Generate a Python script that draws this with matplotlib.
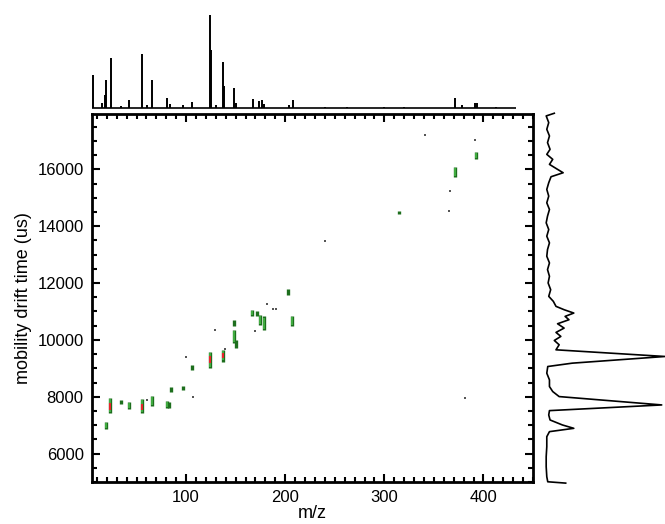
import matplotlib.pyplot as plt
from matplotlib.ticker import MultipleLocator

plt.rcParams['font.family'] = ['Liberation Sans', 'DejaVu Sans']

# top projection: m/z spectrum (peak position, relative height)
top_mz = [5.7, 15.4, 18, 19, 24, 34, 42, 55.6, 61, 66, 81, 84, 97, 106,
          124.5, 125.5, 130, 137, 138, 148, 150.7, 167, 174, 176.5, 178.5,
          204, 207.7, 240, 262, 300, 320, 371, 378.6, 391.4, 393, 412.5]
top_int = [33, 5, 13, 28, 50, 2, 8, 54, 3, 28, 10, 4, 3, 6,
           93, 58, 3, 46, 22, 20, 5, 9, 7, 8, 4,
           3.5, 8, 1.5, 1, 1, 1, 10, 3, 5, 5, 1.5]
top_range = [5, 433]

# right projection: drift time profile
drift_t = [17975, 17881, 17646, 17411, 17176, 16941, 16705, 16529, 16353, 16176,
           16000, 15882, 15741, 15530, 15295, 15059, 14824, 14589, 14354, 14119,
           13884, 13649, 13414, 13178, 12943, 12708, 12473, 12238, 12003, 11767,
           11532, 11356, 11180, 11062, 10944, 10827, 10709, 10568, 10415, 10263,
           10122, 9980, 9828, 9651, 9416, 9181, 9063, 8828, 8593, 8358,
           8182, 8005, 7711, 7511, 7358, 7182, 7006, 6888, 6771, 6594,
           6242, 5889, 5536, 5184, 5007, 4960]
drift_int = [8.6, 1.9, 4.0, 2.4, 4.6, 3.0, 5.1, 2.4, 7.3, 4.6,
             11.3, 15.9, 5.9, 4.0, 2.4, 4.0, 2.4, 4.6, 3.0, 1.9,
             4.0, 2.4, 4.6, 3.0, 2.4, 4.6, 3.0, 4.6, 3.5, 5.6,
             4.0, 7.8, 10.0, 16.7, 24.7, 17.5, 20.7, 11.3, 16.7, 10.0,
             14.0, 8.6, 12.6, 10.0, 100, 23.4, 3.2, 2.4, 4.6, 4.6,
             7.3, 12.6, 97.3, 4.6, 4.0, 5.1, 15.3, 24.7, 4.6, 2.4,
             2.4, 1.9, 1.9, 2.4, 3.2, 18]

# 2D features: m/z, drift time extent, intensity level (1 weak, 2 medium, 3 strong)
feat_mz = [18.8, 23.6, 34.6, 42.3, 55.3, 65.4, 80.5, 83.2, 84.9, 96.6,
           106, 124.1, 136.8, 147.9, 148, 150.3, 166.4, 172, 174.5, 178.8,
           203.2, 207.2, 314.5, 371.5, 392.6]
feat_lo = [6855, 7440, 7747, 7560, 7440, 7676, 7594, 7594, 8180, 8240,
           8946, 9006, 9239, 10498, 9880, 9710, 10826, 10826, 10533, 10357,
           11591, 10498, 14413, 15729, 16353]
feat_hi = [7123, 7948, 7888, 7829, 7912, 8041, 7865, 7830, 8335, 8392,
           9122, 9591, 9651, 10710, 10357, 9990, 11062, 11003, 10886, 10826,
           11792, 10851, 14530, 16081, 16610]
feat_lvl = [2, 3, 1, 2, 3, 2, 2, 1, 1, 1,
            1, 3, 3, 1, 2, 1, 2, 1, 2, 2,
            1, 2, 1, 2, 2]
core_mz = [23.6, 55.3, 124.1, 136.8]
core_lo = [7535, 7535, 9182, 9357]
core_hi = [7782, 7747, 9440, 9545]

# isolated low-intensity points
dot_mz = [60.4, 100, 106.6, 139.5, 129, 169.7, 182, 187.8, 190.5, 239.8,
          341.3, 364.8, 365.8, 391, 381.6]
dot_t = [7888, 9415, 8004, 9687, 10357, 10320, 11274, 11100, 11100, 13496,
         17210, 14530, 15235, 17033, 7958]

fig = plt.figure(figsize=(6.65, 5.24), dpi=100)
ax = fig.add_axes([0.1383, 0.0802, 0.6632, 0.7023])
ax_top = fig.add_axes([0.1383, 0.790, 0.6632, 0.1908])
ax_right = fig.add_axes([0.8135, 0.0802, 0.1865, 0.7023])

# main 2D map
ax.vlines(feat_mz, feat_lo, feat_hi, color='#1d6e1d', lw=2.4)
inner = [i for i, l in enumerate(feat_lvl) if l >= 2]
ax.vlines([feat_mz[i] for i in inner], [feat_lo[i] + 40 for i in inner],
          [feat_hi[i] - 40 for i in inner], color='#48b848', lw=1.2)
ax.vlines(core_mz, core_lo, core_hi, color='#e8242c', lw=1.5)
ax.scatter(dot_mz, dot_t, s=3, color='#555555', marker='s', lw=0)

ax.set_xlim(5, 450)
ax.set_ylim(5000, 17950)
ax.xaxis.set_major_locator(MultipleLocator(100))
ax.xaxis.set_minor_locator(MultipleLocator(10))
ax.yaxis.set_major_locator(MultipleLocator(2000))
ax.yaxis.set_minor_locator(MultipleLocator(500))
ax.tick_params(which='both', direction='in', top=True, right=True,
               labelsize=12, width=1.5, pad=6)
ax.tick_params(which='major', length=6)
ax.tick_params(which='minor', length=3.5)
for s in ax.spines.values():
    s.set_linewidth(2)
ax.set_xlabel('m/z', fontsize=13, labelpad=0)
ax.set_ylabel('mobility drift time (us)', fontsize=13, labelpad=4)

# top spectrum
ax_top.hlines(0, top_range[0], top_range[1], color='black', lw=1.2)
ax_top.vlines(top_mz, 0, top_int, color='black', lw=1.4)
ax_top.set_xlim(5, 450)
ax_top.set_ylim(-2, 98)
ax_top.axis('off')

# right drift profile
ax_right.plot(drift_int, drift_t, color='black', lw=1.2, clip_on=False)
ax_right.set_xlim(-2.4, 100)
ax_right.set_ylim(5000, 17950)
ax_right.axis('off')

fig.savefig('out.png', dpi=100)
